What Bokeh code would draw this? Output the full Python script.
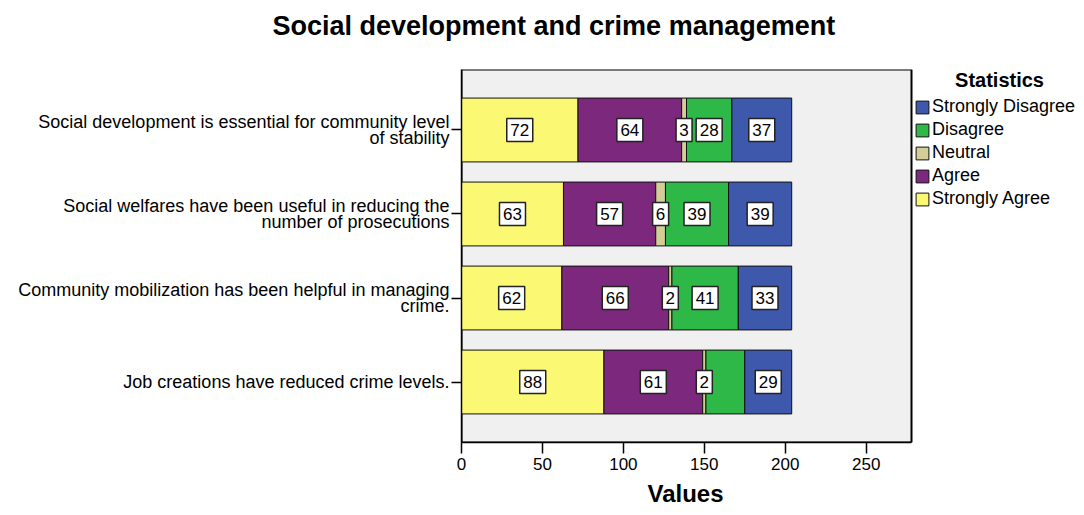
from bokeh.plotting import figure
from bokeh.models import (FactorRange, Range1d, FixedTicker, ColumnDataSource,
                          Legend, LegendItem, BoxAnnotation, Label, Title)
from bokeh.embed import file_html
from bokeh.resources import INLINE
from bokeh.core.properties import value

# ---------------- data ----------------
statements = [
    "Social development is essential for community level\nof stability",
    "Social welfares have been useful in reducing the\nnumber of prosecutions",
    "Community mobilization has been helpful in managing\ncrime.",
    "Job creations have reduced crime levels.",
]
responses = ["Strongly Agree", "Agree", "Neutral", "Disagree", "Strongly Disagree"]
strongly_agree = [72, 63, 62, 88]
agree = [64, 57, 66, 61]
neutral = [3, 6, 2, 2]
disagree = [28, 39, 41, 24]
strongly_disagree = [37, 39, 33, 29]
x_ticks = [0, 50, 100, 150, 200, 250]
x_axis_max = 278
colors = ["#FBF873", "#7C287D", "#D3CE97", "#2EB848", "#3E58AC"]
# segment labels that are not shown in the original chart
hidden_labels = [("Job creations have reduced crime levels.", "Disagree")]

FONT = "Liberation Sans"
W, H = 1084, 515
LEFT, TOP, BOTTOM = 461, 69, 73
PLOT_PX = 450                      # width of the grey plot area in pixels
frame_px = W - LEFT
x_end = x_axis_max * frame_px / PLOT_PX

series = [strongly_agree, agree, neutral, disagree, strongly_disagree]
src = ColumnDataSource(dict(statement=statements,
                            **{r: s for r, s in zip(responses, series)}))

p = figure(width=W, height=H, title=None,
           y_range=FactorRange(factors=list(reversed(statements)), range_padding=0.11),
           x_range=Range1d(0, x_end),
           output_backend="svg", toolbar_location=None,
           min_border_left=LEFT, min_border_right=0,
           min_border_top=TOP, min_border_bottom=BOTTOM)

# grey plot area with border
p.add_layout(BoxAnnotation(left=0, right=x_axis_max, fill_color="#F0F0F0", fill_alpha=1,
                           line_color="black", line_alpha=1, line_width=2,
                           level="underlay"))

renderers = p.hbar_stack(responses, y="statement", height=0.76, color=colors,
                         line_color="#111111", line_width=1, source=src)

# value labels
lx, ly, lt, lw = [], [], [], []
for i, st in enumerate(statements):
    left = 0
    for resp, vals in zip(responses, series):
        v = vals[i]
        if (st, resp) not in hidden_labels:
            lx.append(left + v / 2)
            ly.append(st)
            lt.append(str(v))
            lw.append(10 * len(str(v)) + 6)
        left += v
lsrc = ColumnDataSource(dict(x=lx, y=ly, t=lt, w=lw))
p.rect(x="x", y="y", width="w", height=23, width_units="screen", height_units="screen",
       fill_color="white", line_color="#222222", line_width=1.5, source=lsrc)
p.text(x="x", y="y", text="t", text_align="center", text_baseline="middle",
       text_font=value(FONT), text_font_size="17px", text_color="black", source=lsrc)

# title (a blank spacer title sits between the main title and the plot area)
p.add_layout(Title(text=" ", text_font_size="10px"), "above")
p.add_layout(Title(text="Social development and crime management", align="left",
                   offset=-189, vertical_align="middle", text_font=FONT,
                   text_font_size="27px", text_font_style="bold",
                   text_color="black"), "above")

# background/frame
p.background_fill_color = "white"
p.border_fill_color = "white"
p.outline_line_color = None
p.xgrid.visible = False
p.ygrid.visible = False

# axes
for ax in (p.xaxis[0], p.yaxis[0]):
    ax.axis_line_color = "black"
    ax.axis_line_width = 1.5
    ax.major_tick_line_color = "black"
    ax.major_tick_line_width = 1.5
    ax.major_tick_in = 0
    ax.major_tick_out = 10
    ax.minor_tick_line_color = None
    ax.major_label_text_font = FONT
    ax.major_label_text_color = "black"
    ax.major_label_standoff = 3

p.xaxis.bounds = (0, x_axis_max)
p.xaxis.ticker = FixedTicker(ticks=x_ticks)
p.xaxis.major_label_text_font_size = "17px"
p.xaxis.major_tick_out = 11
p.xaxis.major_label_standoff = 4

# x-axis title, centred under the grey plot area
p.add_layout(Title(text="Values", align="left", offset=186, vertical_align="bottom",
                   text_font=FONT, text_font_size="24px", text_font_style="bold",
                   text_color="black"), "below")

p.yaxis.major_label_text_font_size = "18px"
p.yaxis.major_label_text_line_height = 0.8
p.yaxis.major_label_standoff = 2

# legend (placed to the right of the grey plot area)
items = [LegendItem(label=resp, renderers=[r])
         for resp, r in reversed(list(zip(responses, renderers)))]
legend = Legend(items=items, location=(453, 233),
                label_text_font=FONT, label_text_font_size="18px",
                label_text_color="black", label_standoff=2,
                glyph_width=16, glyph_height=16, spacing=2,
                padding=0, margin=0,
                background_fill_alpha=0, border_line_alpha=0)
p.add_layout(legend)
p.add_layout(Label(x=538, y=372.5 + 1, x_units="screen", y_units="screen",
                   text="Statistics", text_align="center", text_baseline="top",
                   text_font=FONT, text_font_size="20px", text_font_style="bold",
                   text_color="black"))

open("out.html", "w").write(file_html(p, INLINE))
